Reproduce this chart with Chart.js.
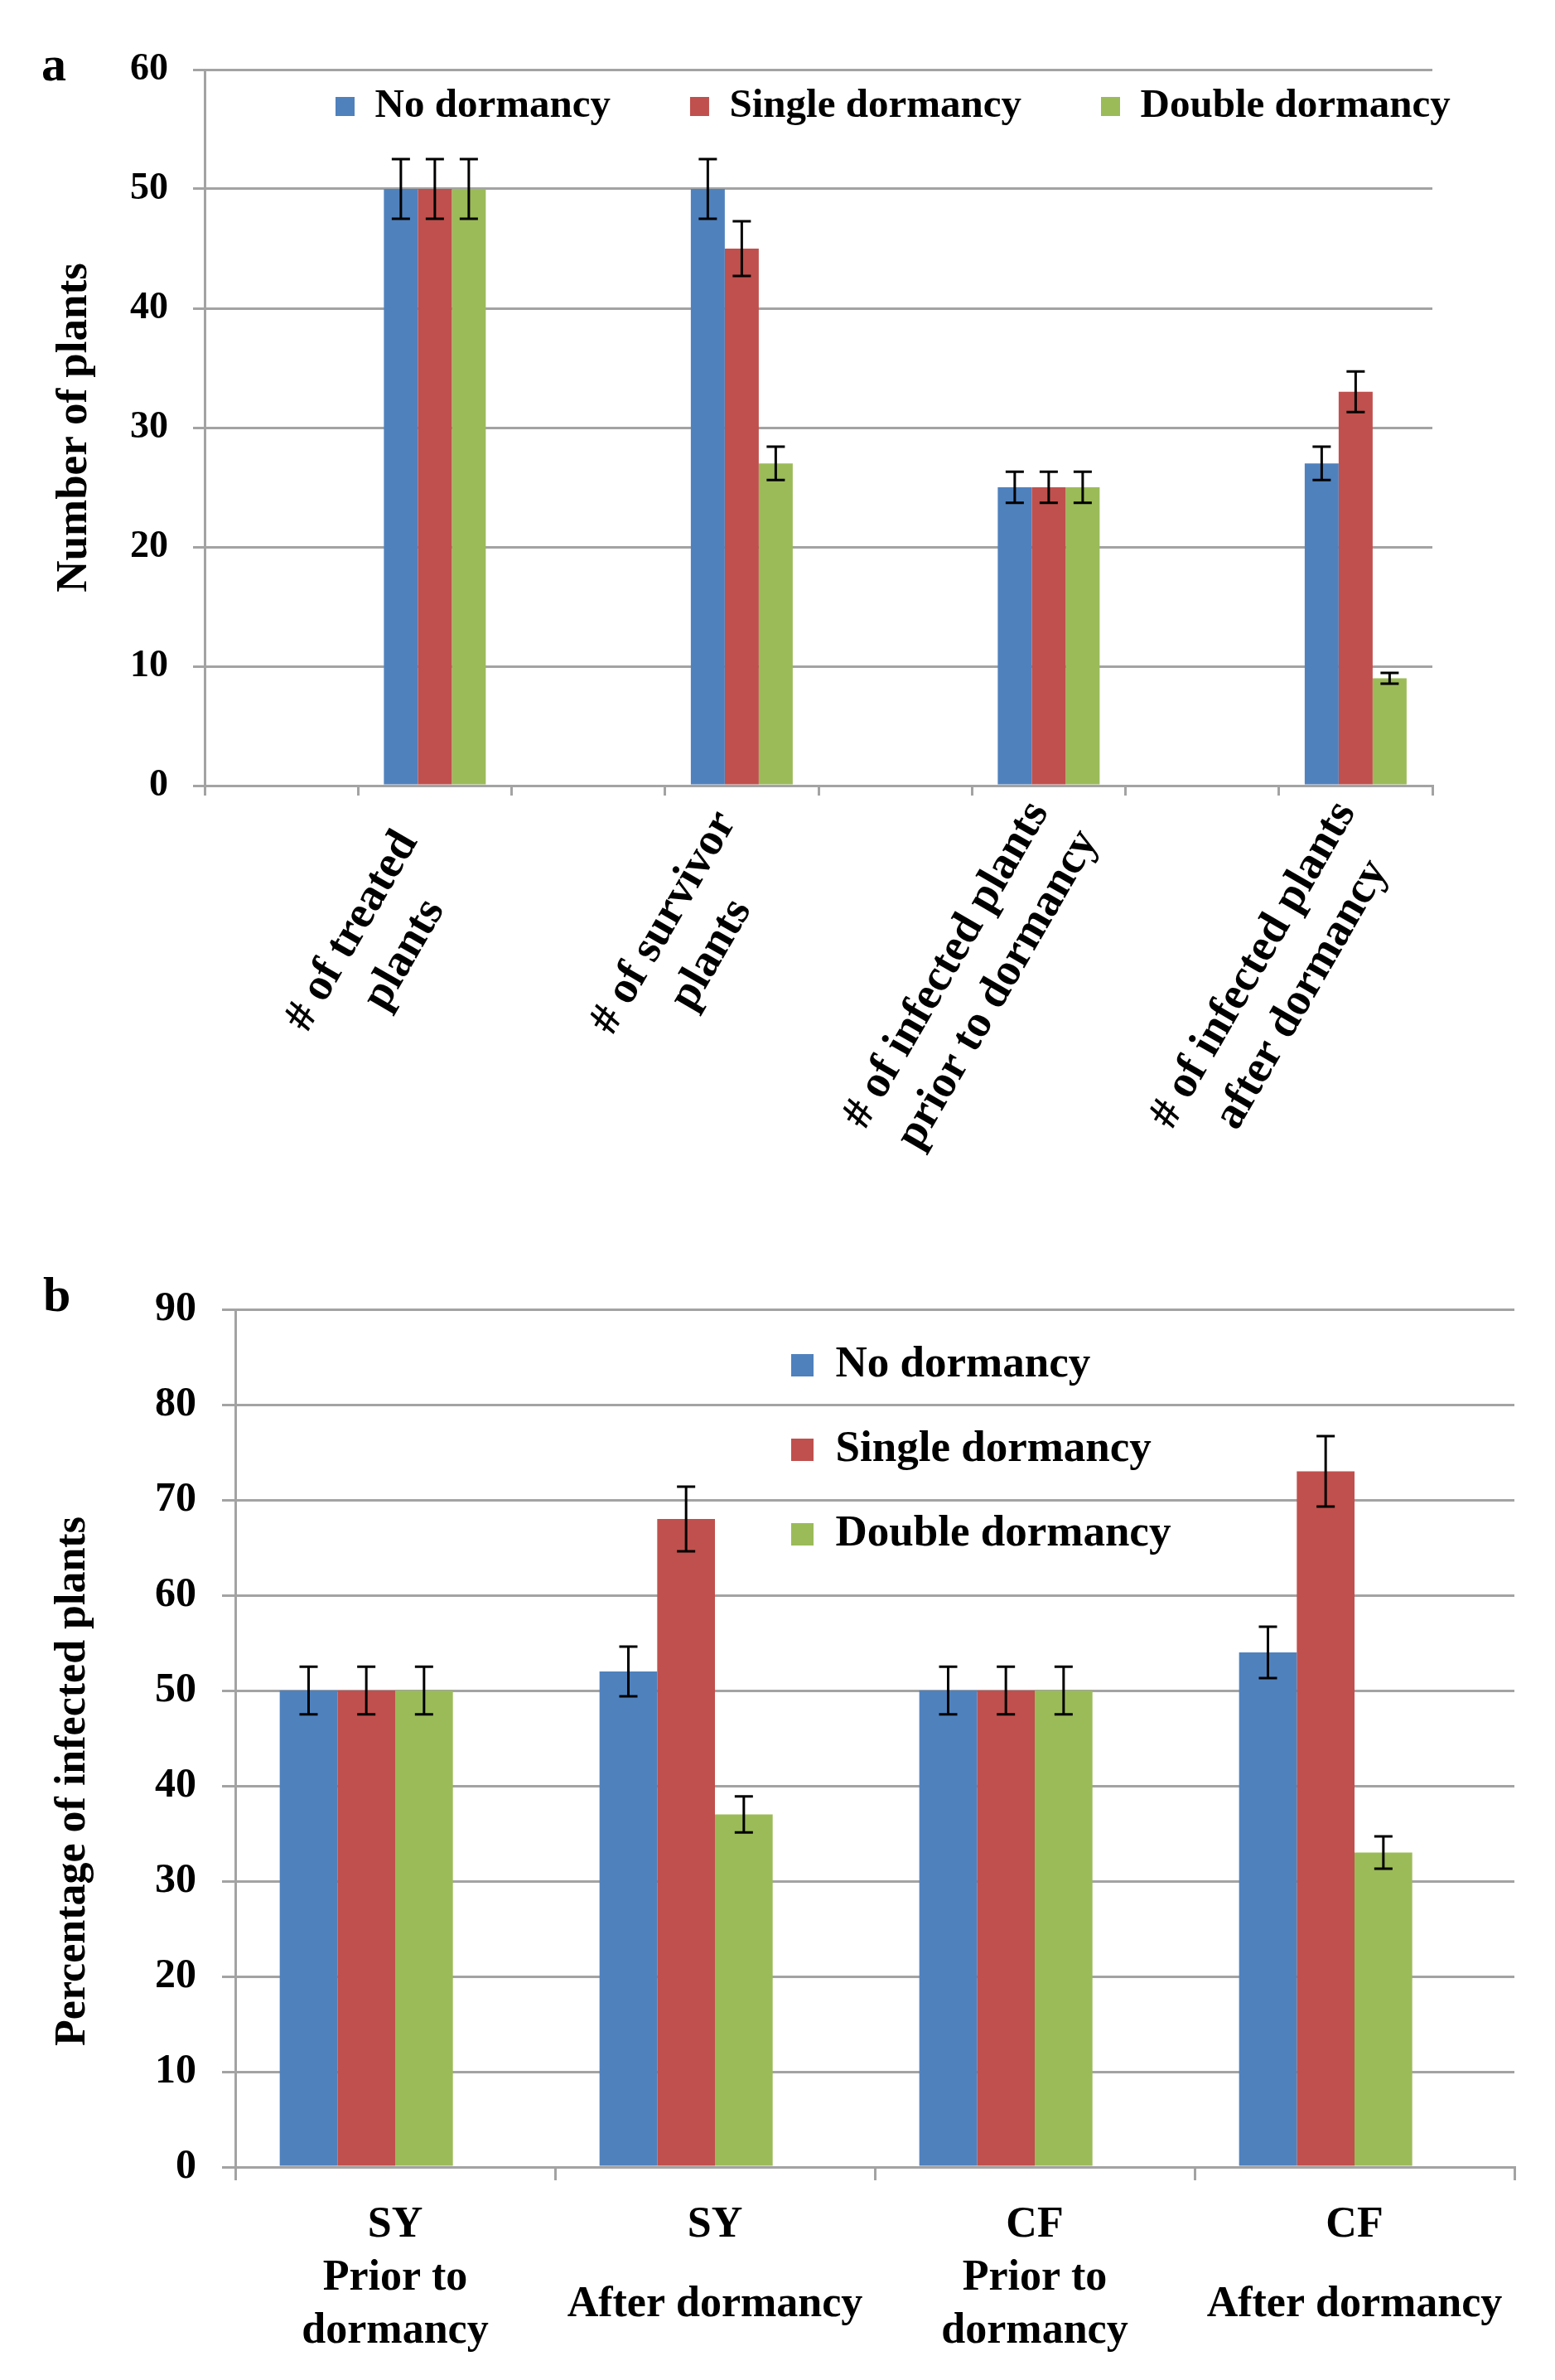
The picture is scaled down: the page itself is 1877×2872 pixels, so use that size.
<!DOCTYPE html>
<html>
<head>
<meta charset="utf-8">
<script src="https://cdn.jsdelivr.net/npm/chart.js@4.4.0/dist/chart.umd.min.js"></script>
<style>
  body { margin: 0; background: #fff; }
  #page { position: relative; width: 1877px; height: 2872px; }
  canvas { position: absolute; left: 0; }
  .tag { position: absolute; font: bold 60px "Liberation Serif", "Times New Roman", serif; line-height: 60px; color: #000; }
</style>
</head>
<body>
<div id="page">
  <canvas id="chartA" width="1877" height="1440" style="top:0"></canvas>
  <canvas id="chartB" width="1877" height="1432" style="top:1440px"></canvas>
  <div class="tag" style="left:50px;top:47px">a</div>
  <div class="tag" style="left:52px;top:1532px">b</div>
</div>
<script>
// Panel a: number of plants
const categoriesA = [
    ['# of treated', 'plants'],
    ['# of survivor', 'plants'],
    ['# of infected plants', 'prior to dormancy'],
    ['# of infected plants', 'after dormancy']
];
const noDormancyA = [50, 50, 25, 27];
const singleDormancyA = [50, 45, 25, 33];
const doubleDormancyA = [50, 27, 25, 9];
const noDormancyErrA = [2.5, 2.5, 1.3, 1.4];
const singleDormancyErrA = [2.5, 2.3, 1.3, 1.7];
const doubleDormancyErrA = [2.5, 1.4, 1.3, 0.45];

// Panel b: percentage of infected plants
const categoriesB = [
    ['SY', 'Prior to', 'dormancy'],
    ['SY', 'After dormancy'],
    ['CF', 'Prior to', 'dormancy'],
    ['CF', 'After dormancy']
];
const noDormancyB = [50, 52, 50, 54];
const singleDormancyB = [50, 68, 50, 73];
const doubleDormancyB = [50, 37, 50, 33];
const noDormancyErrB = [2.5, 2.6, 2.5, 2.7];
const singleDormancyErrB = [2.5, 3.4, 2.5, 3.7];
const doubleDormancyErrB = [2.5, 1.9, 2.5, 1.7];

const seriesNames = ['No dormancy', 'Single dormancy', 'Double dormancy'];
const seriesColors = ['#4F81BD', '#C0504D', '#9BBB59'];

const SERIF = '"Liberation Serif", "Times New Roman", serif';
const GRID = '#a3a3a3';

Chart.defaults.font.family = SERIF;
Chart.defaults.font.weight = 'bold';
Chart.defaults.color = '#000';

// error bars drawn on top of every bar
const errorBars = {
    id: 'errorBars',
    afterDatasetsDraw(chart, args, opts) {
        const ctx = chart.ctx;
        const y = chart.scales.y;
        chart.data.datasets.forEach((ds, i) => {
            if (!ds.errors) return;
            chart.getDatasetMeta(i).data.forEach((bar, j) => {
                const v = ds.data[j];
                const e = ds.errors[j];
                if (v == null || e == null) return;
                const top = y.getPixelForValue(v + e);
                const bot = y.getPixelForValue(v - e);
                ctx.save();
                ctx.strokeStyle = '#000';
                ctx.lineWidth = opts.width;
                ctx.beginPath();
                ctx.moveTo(bar.x, top); ctx.lineTo(bar.x, bot);
                ctx.moveTo(bar.x - opts.cap, top); ctx.lineTo(bar.x + opts.cap, top);
                ctx.moveTo(bar.x - opts.cap, bot); ctx.lineTo(bar.x + opts.cap, bot);
                ctx.stroke();
                ctx.restore();
            });
        });
    }
};

// put the legend box where the original has it (inside the plot)
const legendPlace = {
    id: 'legendPlace',
    afterLayout(chart, args, opts) {
        const l = chart.legend;
        if (!l) return;
        const w = l.right - l.left, h = opts.height || (l.bottom - l.top);
        l.left = opts.left; l.right = opts.left + w;
        l.top = opts.top; l.bottom = opts.top + h;
    }
};

// centre the lines of a rotated label inside a box of at least boxWidth
function centerLines(lines, font, boxWidth) {
    const c = document.createElement('canvas').getContext('2d');
    c.font = font;
    const widths = lines.map(t => c.measureText(t).width);
    const max = Math.max(boxWidth, ...widths);
    const sp = c.measureText('\u00a0').width;
    return lines.map((t, i) => t + '\u00a0'.repeat(Math.round((max - widths[i]) / 2 / sp)));
}

window.onload = function () {
    // Grafik a
    const tickFontA = 'bold 55px ' + SERIF;
    const labelsA = categoriesA.flatMap(c => ['', centerLines(c, tickFontA, 337)]);
    const slot = arr => arr.flatMap(v => [null, v]);
    const valsA = [noDormancyA, singleDormancyA, doubleDormancyA];
    const errsA = [noDormancyErrA, singleDormancyErrA, doubleDormancyErrA];

    new Chart(document.getElementById('chartA').getContext('2d'), {
        type: 'bar',
        data: {
            labels: labelsA,
            datasets: seriesNames.map((name, i) => ({
                label: name,
                data: slot(valsA[i]),
                errors: slot(errsA[i]),
                backgroundColor: seriesColors[i],
                borderWidth: 0,
                categoryPercentage: 0.664,
                barPercentage: 1
            }))
        },
        options: {
            responsive: false,
            animation: false,
            layout: { padding: { left: 59, right: 148, top: 0, bottom: 0 } },
            plugins: {
                tooltip: { enabled: false },
                legend: {
                    position: 'top',
                    align: 'start',
                    maxHeight: 84,
                    labels: {
                        boxWidth: 23, boxHeight: 23, padding: 96,
                        font: { size: 49, weight: 'bold' }, color: '#000'
                    }
                },
                legendPlace: { left: 309, top: 8, height: 240 },
                errorBars: { width: 3, cap: 11 }
            },
            scales: {
                x: {
                    grid: { drawOnChartArea: false, drawTicks: true, tickLength: 12, color: GRID, lineWidth: 3, offset: true },
                    border: { display: true, color: GRID, width: 3 },
                    ticks: {
                        autoSkip: false, minRotation: 60, maxRotation: 60, padding: -5, labelOffset: -12,
                        font: { size: 55, weight: 'bold', lineHeight: 1.25 }, color: '#000'
                    },
                    afterFit(scale) { scale.height = 492; scale.paddingLeft = 0; scale.paddingRight = 0; }
                },
                y: {
                    min: 0, max: 60,
                    ticks: { stepSize: 10, padding: 30, font: { size: 46, weight: 'bold' }, color: '#000' },
                    grid: { color: GRID, lineWidth: 3, tickLength: 14 },
                    border: { display: true, color: GRID, width: 3 },
                    title: { display: true, text: 'Number of plants', font: { size: 53, weight: 'bold' }, padding: 0, color: '#000' },
                    afterFit(scale) { scale.width = 188; }
                }
            }
        },
        plugins: [errorBars, legendPlace]
    });

    // Grafik b
    const valsB = [noDormancyB, singleDormancyB, doubleDormancyB];
    const errsB = [noDormancyErrB, singleDormancyErrB, doubleDormancyErrB];
    const datasetsB = seriesNames.map((name, i) => ({
        label: name,
        data: valsB[i],
        errors: errsB[i],
        backgroundColor: seriesColors[i],
        borderWidth: 0,
        categoryPercentage: 0.722,
        barPercentage: 1
    }));
    // empty fourth slot, as in the original grouping
    datasetsB.push({ label: '', data: categoriesB.map(() => null), backgroundColor: 'rgba(0,0,0,0)', borderWidth: 0, categoryPercentage: 0.722, barPercentage: 1 });

    new Chart(document.getElementById('chartB').getContext('2d'), {
        type: 'bar',
        data: { labels: categoriesB, datasets: datasetsB },
        options: {
            responsive: false,
            animation: false,
            layout: { padding: { left: 57, right: 49, top: 140, bottom: 0 } },
            plugins: {
                tooltip: { enabled: false },
                legend: {
                    position: 'chartArea',
                    align: 'start',
                    labels: {
                        boxWidth: 27, boxHeight: 27, padding: 49,
                        font: { size: 53, weight: 'bold' }, color: '#000',
                        filter: item => item.text !== ''
                    }
                },
                legendPlace: { left: 906, top: 132 },
                errorBars: { width: 3, cap: 11 }
            },
            scales: {
                x: {
                    grid: { drawOnChartArea: false, drawTicks: true, tickLength: 16, color: GRID, lineWidth: 3, offset: true },
                    border: { display: true, color: GRID, width: 3 },
                    ticks: {
                        autoSkip: false, minRotation: 0, maxRotation: 0, padding: 55, crossAlign: 'center', color: '#000',
                        font: (c) => ({ size: 52, weight: 'bold', lineHeight: categoriesB[c.index].length === 3 ? '64px' : '96px' })
                    },
                    afterFit(scale) { scale.height = 257; scale.paddingLeft = 0; scale.paddingRight = 0; }
                },
                y: {
                    min: 0, max: 90,
                    ticks: { stepSize: 10, padding: 31, font: { size: 50, weight: 'bold' }, color: '#000' },
                    grid: { color: GRID, lineWidth: 3, tickLength: 16 },
                    border: { display: true, color: GRID, width: 3 },
                    title: { display: true, text: 'Percentage of infected plants' + '\u00a0'.repeat(8), font: { size: 52, weight: 'bold' }, padding: 0, color: '#000' },
                    afterFit(scale) { scale.width = 227; }
                }
            }
        },
        plugins: [errorBars, legendPlace]
    });
};
</script>
</body>
</html>
